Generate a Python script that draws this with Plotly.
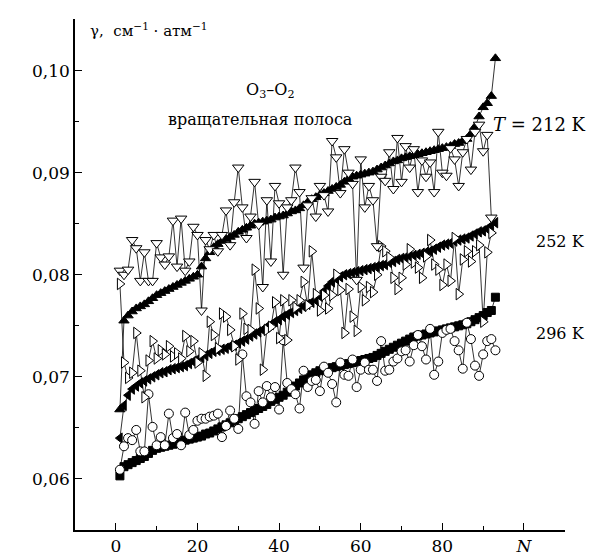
import plotly.graph_objects as go

# ---- data ----
t212_calc = [0.0668,0.0755,0.0760,0.0764,0.0767,0.0769,0.0771,0.0774,0.0777,0.0780,
             0.0782,0.0784,0.0786,0.0788,0.0790,0.0792,0.0794,0.0796,0.0798,0.0800,
             0.0808,0.0816,0.0822,0.0827,0.0830,0.0833,0.0835,0.0837,0.0839,0.0842,
             0.0844,0.0846,0.0848,0.0850,0.0851,0.0852,0.0853,0.0854,0.0856,0.0857,
             0.0858,0.0860,0.0862,0.0863,0.0865,0.0868,0.0871,0.0874,0.0876,0.0878,
             0.0880,0.0882,0.0884,0.0886,0.0888,0.0891,0.0894,0.0896,0.0897,0.0898,
             0.0899,0.0900,0.0901,0.0903,0.0905,0.0907,0.0909,0.0911,0.0912,0.0914,
             0.0915,0.0916,0.0917,0.0918,0.0919,0.0920,0.0921,0.0922,0.0923,0.0924,
             0.0925,0.0926,0.0928,0.0929,0.0931,0.0933,0.0938,0.0945,0.0955,0.0964,
             0.0968,0.0975,0.1012]

t212_exp = [0.0804,0.0800,0.0805,0.0834,0.0826,0.0794,0.0822,0.0794,0.0794,0.0831,
            0.0817,0.0810,0.0818,0.0853,0.0808,0.0855,0.0804,0.0813,0.0847,0.0839,
            0.0765,0.0834,0.0825,0.0839,0.0823,0.0839,0.0863,0.0829,0.0871,0.0905,
            0.0866,0.0836,0.0857,0.0891,0.0849,0.0788,0.0873,0.0813,0.0887,0.0870,
            0.0800,0.0866,0.0873,0.0905,0.0881,0.0807,0.0868,0.0875,0.0857,0.0887,
            0.0878,0.0862,0.0931,0.0915,0.0880,0.0923,0.0900,0.0889,0.0795,0.0913,
            0.0866,0.0887,0.0873,0.0828,0.0896,0.0892,0.0920,0.0884,0.0934,0.0891,
            0.0926,0.0905,0.0923,0.0881,0.0912,0.0896,0.0910,0.0881,0.0940,0.0900,
            0.0897,0.0924,0.0913,0.0887,0.0920,0.0933,0.0903,0.0940,0.0947,0.0921,
            0.0937,0.0856]

t252_calc = [0.0640,0.0672,0.0682,0.0688,0.0691,0.0694,0.0696,0.0698,0.0700,0.0702,
             0.0704,0.0705,0.0707,0.0708,0.0709,0.0710,0.0711,0.0713,0.0715,0.0717,
             0.0719,0.0721,0.0723,0.0725,0.0726,0.0727,0.0728,0.0730,0.0731,0.0733,
             0.0735,0.0737,0.0740,0.0742,0.0744,0.0746,0.0749,0.0751,0.0754,0.0756,
             0.0759,0.0761,0.0763,0.0765,0.0767,0.0769,0.0771,0.0773,0.0775,0.0779,
             0.0784,0.0789,0.0793,0.0796,0.0798,0.0800,0.0801,0.0802,0.0803,0.0804,
             0.0805,0.0806,0.0807,0.0808,0.0809,0.0810,0.0812,0.0813,0.0815,0.0816,
             0.0817,0.0818,0.0819,0.0820,0.0821,0.0822,0.0823,0.0825,0.0827,0.0829,
             0.0830,0.0831,0.0833,0.0834,0.0835,0.0836,0.0838,0.0840,0.0842,0.0843,
             0.0845,0.0848,0.0851]

t252_exp = [0.0791,0.0714,0.0699,0.0704,0.0743,0.0706,0.0680,0.0716,0.0735,0.0718,
            0.0726,0.0722,0.0730,0.0720,0.0723,0.0718,0.0740,0.0725,0.0735,0.0714,
            0.0723,0.0701,0.0754,0.0741,0.0728,0.0762,0.0759,0.0746,0.0730,0.0717,
            0.0762,0.0747,0.0746,0.0805,0.0767,0.0707,0.0746,0.0749,0.0773,0.0738,
            0.0775,0.0736,0.0775,0.0768,0.0775,0.0793,0.0770,0.0823,0.0781,0.0765,
            0.0780,0.0767,0.0780,0.0800,0.0785,0.0743,0.0786,0.0759,0.0745,0.0788,
            0.0775,0.0788,0.0783,0.0800,0.0828,0.0823,0.0817,0.0797,0.0786,0.0797,
            0.0810,0.0825,0.0812,0.0807,0.0797,0.0818,0.0834,0.0810,0.0805,0.0790,
            0.0810,0.0794,0.0836,0.0781,0.0815,0.0823,0.0813,0.0823,0.0829,0.0754,
            0.0822,0.0841]

t296_calc = [0.0603,0.0612,0.0614,0.0616,0.0618,0.0620,0.0622,0.0625,0.0628,0.0630,
             0.0631,0.0632,0.0633,0.0634,0.0635,0.0637,0.0638,0.0639,0.0640,0.0641,
             0.0642,0.0644,0.0645,0.0647,0.0649,0.0651,0.0653,0.0655,0.0657,0.0659,
             0.0661,0.0663,0.0665,0.0667,0.0669,0.0671,0.0673,0.0676,0.0678,0.0680,
             0.0682,0.0685,0.0688,0.0691,0.0694,0.0697,0.0700,0.0702,0.0704,0.0706,
             0.0707,0.0708,0.0709,0.0710,0.0711,0.0712,0.0713,0.0714,0.0715,0.0716,
             0.0717,0.0718,0.0719,0.0721,0.0723,0.0725,0.0727,0.0729,0.0731,0.0733,
             0.0735,0.0737,0.0739,0.0740,0.0741,0.0742,0.0743,0.0744,0.0745,0.0746,
             0.0747,0.0748,0.0749,0.0750,0.0751,0.0752,0.0754,0.0756,0.0758,0.0760,
             0.0763,0.0765,0.0778]

t296_exp = [0.0609,0.0632,0.0640,0.0638,0.0648,0.0627,0.0627,0.0683,0.0651,0.0633,
            0.0641,0.0633,0.0664,0.0640,0.0644,0.0633,0.0665,0.0643,0.0648,0.0657,
            0.0659,0.0659,0.0661,0.0662,0.0664,0.0641,0.0652,0.0667,0.0659,0.0649,
            0.0722,0.0681,0.0675,0.0654,0.0686,0.0675,0.0691,0.0680,0.0690,0.0668,
            0.0736,0.0694,0.0688,0.0683,0.0669,0.0706,0.0690,0.0696,0.0697,0.0686,
            0.0710,0.0704,0.0693,0.0675,0.0714,0.0702,0.0701,0.0717,0.0690,0.0707,
            0.0714,0.0707,0.0707,0.0696,0.0735,0.0706,0.0707,0.0715,0.0718,0.0725,
            0.0726,0.0715,0.0731,0.0741,0.0730,0.0717,0.0747,0.0702,0.0715,0.0743,
            0.0746,0.0747,0.0735,0.0726,0.0708,0.0753,0.0737,0.0711,0.0701,0.0722,
            0.0735,0.0737,0.0726]

x_tick_vals = [0, 20, 40, 60, 80, 100]
x_tick_text = ["0", "20", "40", "60", "80", "<i>N</i>"]
y_tick_vals = [0.06, 0.07, 0.08, 0.09, 0.10]

SERIF = "DejaVu Serif"

def n_of(vals):
    return list(range(1, len(vals) + 1))

fig = go.Figure()

def add(vals, symbol, size, fill, lw=0.8):
    fig.add_trace(go.Scatter(
        x=n_of(vals), y=vals, mode="lines+markers",
        line=dict(color="black", width=lw),
        marker=dict(symbol=symbol, size=size, color=fill,
                    line=dict(color="black", width=1)),
        showlegend=False, hoverinfo="skip"))

# filled (smooth) series first, open (noisy) series on top
add(t296_calc, "square", 8, "black")
add(t252_calc, "triangle-left", 9, "black")
add(t212_calc, "triangle-up", 9, "black")
add(t296_exp, "circle", 9, "white")
add(t252_exp, "triangle-right", 10, "white")
add(t212_exp, "triangle-down", 10, "white")

txt = dict(family=SERIF, size=16, color="black")
ann = [
    dict(x=-6.9, y=0.1040, text="γ,  см<sup>−1</sup> · атм<sup>−1</sup>", xanchor="left",
         font=dict(family=SERIF, size=15, color="black")),
    dict(x=38.0, y=0.0980, text="O<sub>3</sub>–O<sub>2</sub>", xanchor="center", font=txt),
    dict(x=35.5, y=0.0952, text="вращательная полоса", xanchor="center", font=txt),
    dict(x=92.0, y=0.0947, text="<i>T</i> = 212 K", xanchor="left",
         font=dict(family=SERIF, size=18, color="black")),
    dict(x=102.5, y=0.0833, text="252 K", xanchor="left", font=txt),
    dict(x=102.5, y=0.0742, text="296 K", xanchor="left", font=txt),
]
for a in ann:
    fig.add_annotation(xref="x", yref="y", showarrow=False, yanchor="middle", **a)

fig.update_layout(
    width=600, height=559,
    margin=dict(l=67, r=43, t=11, b=30),
    paper_bgcolor="white", plot_bgcolor="white",
    separators=", ",
    font=dict(family=SERIF, size=16, color="black"),
)
fig.update_xaxes(
    range=[-10, 110.05], showgrid=False, zeroline=False,
    showline=True, linecolor="black", linewidth=1.5,
    ticks="inside", ticklen=7, tickwidth=1, tickcolor="black",
    tickmode="array", tickvals=x_tick_vals, ticktext=x_tick_text,
    minor=dict(ticks="inside", dtick=10, tick0=0, ticklen=4, tickcolor="black", showgrid=False),
    tickfont=dict(family=SERIF, size=17),
)
fig.update_yaxes(
    range=[0.055, 0.10505], showgrid=False, zeroline=False,
    showline=True, linecolor="black", linewidth=1.5,
    ticks="inside", ticklen=7, tickwidth=1, tickcolor="black",
    tickmode="array", tickvals=y_tick_vals, tickformat=".2f",
    minor=dict(ticks="inside", dtick=0.005, tick0=0.055, ticklen=4, tickcolor="black", showgrid=False),
    tickfont=dict(family=SERIF, size=17),
)

fig.write_html("out.html")
